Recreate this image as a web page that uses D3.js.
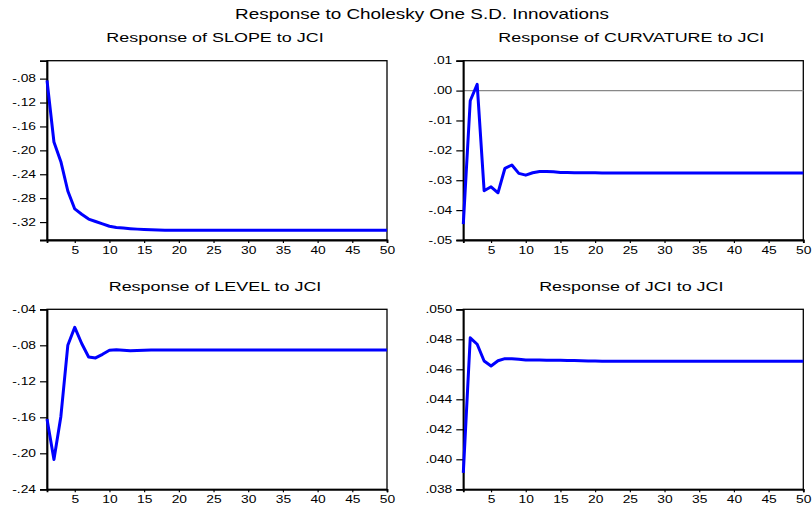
<!DOCTYPE html>
<html>
<head>
<meta charset="utf-8">
<script src="https://cdn.jsdelivr.net/npm/d3@7"></script>
<style>
  html, body { margin: 0; padding: 0; background: #fff; }
  svg text { font-family: "Liberation Sans", Arial, sans-serif; fill: #000; }
</style>
</head>
<body>
<svg id="chart" width="812" height="506"></svg>
<script>
// Impulse responses, periods 1..50
const periods = d3.range(1, 51);

const slope = [
  -0.083, -0.186, -0.219, -0.268, -0.298, -0.307, -0.315, -0.319, -0.323, -0.327,
  -0.329, -0.330, -0.331, -0.3318, -0.3325, -0.3330, -0.3333, -0.3335, -0.3335, -0.3335,
  -0.3335, -0.3335, -0.3335, -0.3335, -0.3335, -0.3335, -0.3335, -0.3335, -0.3335, -0.3335,
  -0.3335, -0.3335, -0.3335, -0.3335, -0.3335, -0.3335, -0.3335, -0.3335, -0.3335, -0.3335,
  -0.3335, -0.3335, -0.3335, -0.3335, -0.3335, -0.3335, -0.3335, -0.3335, -0.3335, -0.3335
];

const curvature = [
  -0.0447, -0.0034, 0.0021, -0.0335, -0.0322, -0.0342, -0.0260, -0.0249, -0.0277, -0.0283,
  -0.0275, -0.0271, -0.0271, -0.0272, -0.0274, -0.0274, -0.0275, -0.0275, -0.0275, -0.0275,
  -0.0276, -0.0276, -0.0276, -0.0276, -0.0276, -0.0276, -0.0276, -0.0276, -0.0276, -0.0276,
  -0.0276, -0.0276, -0.0276, -0.0276, -0.0276, -0.0276, -0.0276, -0.0276, -0.0276, -0.0276,
  -0.0276, -0.0276, -0.0276, -0.0276, -0.0276, -0.0276, -0.0276, -0.0276, -0.0276, -0.0276
];

const level = [
  -0.162, -0.207, -0.159, -0.080, -0.060, -0.078, -0.093, -0.094, -0.090, -0.0855,
  -0.0850, -0.0855, -0.0860, -0.0858, -0.0855, -0.0853, -0.0852, -0.0852, -0.0852, -0.0852,
  -0.0852, -0.0852, -0.0852, -0.0852, -0.0852, -0.0852, -0.0852, -0.0852, -0.0852, -0.0852,
  -0.0852, -0.0852, -0.0852, -0.0852, -0.0852, -0.0852, -0.0852, -0.0852, -0.0852, -0.0852,
  -0.0852, -0.0852, -0.0852, -0.0852, -0.0852, -0.0852, -0.0852, -0.0852, -0.0852, -0.0852
];

const jci = [
  0.03910, 0.04810, 0.04767, 0.04655, 0.04622, 0.04657, 0.04671, 0.04671, 0.04667, 0.04662,
  0.04662, 0.04662, 0.04661, 0.04660, 0.04660, 0.04659, 0.04658, 0.04657, 0.04656, 0.04655,
  0.04654, 0.04654, 0.04654, 0.04654, 0.04654, 0.04653, 0.04653, 0.04653, 0.04653, 0.04653,
  0.04653, 0.04653, 0.04653, 0.04653, 0.04653, 0.04653, 0.04653, 0.04653, 0.04653, 0.04653,
  0.04653, 0.04653, 0.04653, 0.04653, 0.04653, 0.04653, 0.04653, 0.04653, 0.04653, 0.04653
];

const xTicks = [5, 10, 15, 20, 25, 30, 35, 40, 45, 50];
const slopeTicks = [-0.32, -0.28, -0.24, -0.20, -0.16, -0.12, -0.08];
const curvatureTicks = [-0.05, -0.04, -0.03, -0.02, -0.01, 0.00, 0.01];
const levelTicks = [-0.24, -0.20, -0.16, -0.12, -0.08, -0.04];
const jciTicks = [0.038, 0.040, 0.042, 0.044, 0.046, 0.048, 0.050];

const titles = [
  "Response of SLOPE to JCI",
  "Response of CURVATURE to JCI",
  "Response of LEVEL to JCI",
  "Response of JCI to JCI"
];

const svg = d3.select("#chart");

// The whole graph is drawn with wide lettering: widen each text horizontally
// about its own anchor point.
function widen(sel, s) {
  sel.each(function () {
    const t = d3.select(this);
    const x = +t.attr("x") || 0;
    const y = +t.attr("y") || 0;
    t.attr("x", 0).attr("y", 0)
     .attr("transform", `translate(${x},${y}) scale(${s},1)`);
  });
}

svg.append("text")
  .attr("x", 422).attr("y", 18.5)
  .attr("text-anchor", "middle")
  .style("font-size", "14px")
  .text("Response to Cholesky One S.D. Innovations")
  .call(widen, 1.35);

// strip the leading zero, EViews style: -0.08 -> -.08 (plain hyphen minus)
function noLead(dec) {
  const f = d3.format("." + dec + "f");
  return v => f(v).replace("\u2212", "-").replace(/^(-?)0\./, "$1.");
}

const panels = [
  { title: titles[0], values: slope, ticks: slopeTicks, domain: [-0.35, -0.05], dec: 2,
    box: { l: 47, r: 387, t: 60.7, b: 240 }, zero: false },
  { title: titles[1], values: curvature, ticks: curvatureTicks, domain: [-0.05, 0.01], dec: 2,
    box: { l: 463.3, r: 803.3, t: 60.7, b: 240 }, zero: true },
  { title: titles[2], values: level, ticks: levelTicks, domain: [-0.24, -0.04], dec: 2,
    box: { l: 47, r: 387, t: 309.3, b: 489.3 }, zero: false },
  { title: titles[3], values: jci, ticks: jciTicks, domain: [0.038, 0.050], dec: 3,
    box: { l: 463.3, r: 803.3, t: 309.3, b: 489.3 }, zero: false }
];

panels.forEach(p => {
  const { l, r, t, b } = p.box;
  const x = d3.scaleLinear().domain([1, 50]).range([l, r]);
  const y = d3.scaleLinear().domain(p.domain).range([b, t]);
  const g = svg.append("g");

  g.append("text")
    .attr("x", (l + r) / 2 - 2).attr("y", t - 18.5)
    .attr("text-anchor", "middle")
    .style("font-size", "13px")
    .text(p.title)
    .call(widen, 1.38);

  // frame
  g.append("rect")
    .attr("x", l).attr("y", t)
    .attr("width", r - l).attr("height", b - t)
    .attr("fill", "none").attr("stroke", "#000").attr("stroke-width", 1.3);

  if (p.zero) {
    g.append("line")
      .attr("x1", l).attr("x2", r)
      .attr("y1", y(0)).attr("y2", y(0))
      .attr("stroke", "#888").attr("stroke-width", 1.2);
  }

  const yAxis = g.append("g")
    .attr("transform", `translate(${l},0)`)
    .call(d3.axisLeft(y).tickValues(p.ticks).tickFormat(noLead(p.dec)).tickSize(7).tickPadding(4));
  const xAxis = g.append("g")
    .attr("transform", `translate(0,${b})`)
    .call(d3.axisBottom(x).tickValues(xTicks).tickFormat(d3.format("d")).tickSize(3).tickPadding(4));

  [yAxis, xAxis].forEach(a => {
    a.select(".domain").attr("stroke-width", 1.8);
    a.selectAll(".tick line").attr("stroke-width", 1.2);
    a.selectAll("text").style("font-size", "10px")
      .style("font-family", "'Liberation Sans', Arial, sans-serif")
      .call(widen, 1.38);
  });

  const line = d3.line()
    .x((d, i) => x(periods[i]))
    .y(d => y(d));

  g.append("path")
    .datum(p.values)
    .attr("d", line)
    .attr("fill", "none")
    .attr("stroke", "#0000ff")
    .attr("stroke-width", 3)
    .attr("stroke-linejoin", "round");
});
</script>
</body>
</html>
